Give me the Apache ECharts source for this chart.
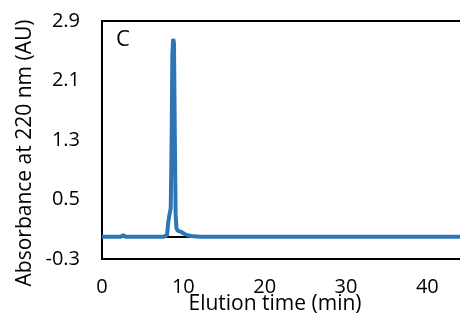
<!DOCTYPE html>
<html>
<head>
<meta charset="utf-8">
<script src="https://cdn.jsdelivr.net/npm/echarts@6/dist/echarts.min.js"></script>
<style>
  html, body { margin: 0; padding: 0; background: #fff; }
  #chart { width: 460px; height: 323px; }
</style>
</head>
<body>
<div id="chart"></div>
<script>
// elution time (min) and absorbance (AU)
const elutionTime = [0, 2.3, 2.6, 2.9, 7.6, 8.0, 8.15, 8.3, 8.45, 8.55, 8.65, 8.75, 8.85, 8.95, 9.05, 9.15, 9.3, 9.5, 9.8, 10.1, 10.5, 11, 12, 20, 30, 40, 45];
const absorbance = [0, 0, 0.02, 0, 0, 0.02, 0.2, 0.3, 0.38, 1.2, 2.45, 2.66, 2.6, 1.4, 0.3, 0.12, 0.08, 0.07, 0.06, 0.04, 0.02, 0.01, 0, 0, 0, 0, 0];
const yTicks = [-0.3, 0.5, 1.3, 2.1, 2.9];
const xTicks = [0, 10, 20, 30, 40];

const font = '"Open Sans", "Noto Sans", sans-serif';
const chart = echarts.init(document.getElementById('chart'));

const option = {
  animation: false,
  grid: {
    left: 102,
    top: 21,
    bottom: 64,
    right: -8,
    outerBoundsMode: 'none',
    show: true,
    borderColor: '#000',
    borderWidth: 2,
  },
  xAxis: {
    type: 'value',
    min: 0,
    max: 45,
    interval: 10,
    axisLine: { show: true, lineStyle: { color: '#000', width: 2 } },
    axisTick: { show: false },
    splitLine: { show: false },
    axisLabel: {
      customValues: xTicks,
      color: '#000',
      fontFamily: font,
      fontSize: 20,
      margin: 18,
    },
  },
  yAxis: {
    type: 'value',
    min: -0.3,
    max: 2.9,
    axisLine: { show: true, lineStyle: { color: '#000', width: 2 } },
    axisTick: { show: false },
    splitLine: { show: false },
    axisLabel: {
      customValues: yTicks,
      formatter: (v) => v.toFixed(1),
      color: '#000',
      fontFamily: font,
      fontSize: 20,
      margin: 22,
    },
  },
  graphic: [
    {
      type: 'text',
      left: 116,
      top: 29,
      style: { text: 'C', fontFamily: font, fontSize: 22, fill: '#000' },
    },
    {
      type: 'text',
      x: 25,
      y: 153,
      rotation: Math.PI / 2,
      style: {
        text: 'Absorbance at 220 nm (AU)',
        fontFamily: font,
        fontSize: 21,
        fill: '#000',
        align: 'center',
        verticalAlign: 'middle',
      },
    },
    {
      type: 'text',
      x: 275,
      y: 304,
      style: {
        text: 'Elution time (min)',
        fontFamily: font,
        fontSize: 21,
        fill: '#000',
        align: 'center',
        verticalAlign: 'middle',
      },
    },
  ],
  series: [
    {
      type: 'line',
      data: elutionTime.map((t, i) => [t, absorbance[i]]),
      showSymbol: false,
      lineStyle: { color: '#2E75B6', width: 4 },
      smooth: false,
    },
  ],
};

chart.setOption(option);
</script>
</body>
</html>
